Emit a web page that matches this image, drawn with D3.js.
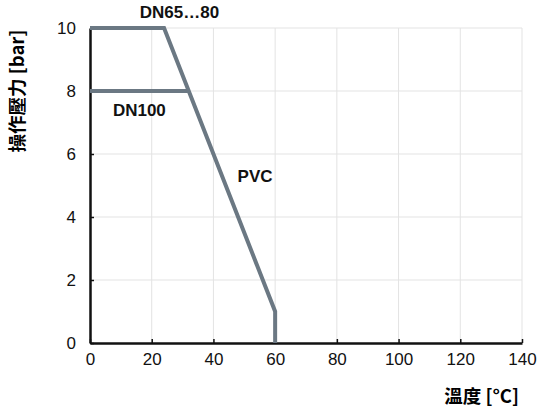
<!DOCTYPE html>
<html>
<head>
<meta charset="utf-8">
<script src="https://cdn.jsdelivr.net/npm/d3@7"></script>
<style>
  body { margin: 0; background: #fff; }
  text { font-family: "Liberation Sans", Arial, sans-serif; }
</style>
</head>
<body>
<svg id="chart" width="542" height="415"></svg>
<script>
var xTicks = [0, 20, 40, 60, 80, 100, 120, 140];
var yTicks = [0, 2, 4, 6, 8, 10];

// DN65...80 curve: temperature [°C], pressure [bar]
var dn65Temp = [0, 24, 60, 60];
var dn65Pres = [10, 10, 1, 0];

// DN100 curve
var dn100Temp = [0, 32];
var dn100Pres = [8, 8];

var labels = [
    { text: "DN65\u202680", t: 29, p: 10.45 },
    { text: "DN100", t: 16, p: 7.35 },
    { text: "PVC", t: 53.5, p: 5.25 }
];

var svg = d3.select("#chart");
var margin = { left: 90, right: 20, top: 28, bottom: 72 };
var width = 542 - margin.left - margin.right,
    height = 415 - margin.top - margin.bottom;

var x = d3.scaleLinear().domain([0, 140]).range([0, width]);
var y = d3.scaleLinear().domain([0, 10]).range([height, 0]);

var g = svg.append("g")
    .attr("transform", "translate(" + margin.left + "," + margin.top + ")");

// grid
g.selectAll(".vgrid")
    .data(xTicks.slice(1))
    .enter()
    .append("line")
    .attr("x1", function(d) { return x(d); })
    .attr("x2", function(d) { return x(d); })
    .attr("y1", 0)
    .attr("y2", height)
    .attr("stroke", "#e3e3e3")
    .attr("stroke-width", 1);

g.selectAll(".hgrid")
    .data(yTicks.slice(1))
    .enter()
    .append("line")
    .attr("x1", 0)
    .attr("x2", width)
    .attr("y1", function(d) { return y(d); })
    .attr("y2", function(d) { return y(d); })
    .attr("stroke", "#e3e3e3")
    .attr("stroke-width", 1);

// axes
var xAxis = g.append("g")
    .attr("transform", "translate(0," + height + ")")
    .call(d3.axisBottom(x).tickValues(xTicks).tickSizeInner(-4).tickSizeOuter(0).tickPadding(10));

var yAxis = g.append("g")
    .call(d3.axisLeft(y).tickValues(yTicks).tickSizeInner(-4).tickSizeOuter(0).tickPadding(14));

[xAxis, yAxis].forEach(function(a) {
    a.select(".domain").attr("stroke", "#111").attr("stroke-width", 2.5);
    a.selectAll(".tick line").attr("stroke", "#111").attr("stroke-width", 1.5);
    a.selectAll(".tick text")
        .style("font-size", "17px")
        .attr("fill", "#111")
        .style("font-family", "'Liberation Sans', Arial, sans-serif");
});

// curves
var line = d3.line()
    .x(function(d) { return x(d[0]); })
    .y(function(d) { return y(d[1]); });

g.append("path")
    .datum(d3.zip(dn100Temp, dn100Pres))
    .attr("d", line)
    .attr("fill", "none")
    .attr("stroke", "#6b7883")
    .attr("stroke-width", 4);

g.append("path")
    .datum(d3.zip(dn65Temp, dn65Pres))
    .attr("d", line)
    .attr("fill", "none")
    .attr("stroke", "#6b7883")
    .attr("stroke-width", 4)
    .attr("stroke-linejoin", "miter");

// labels
g.selectAll(".lbl")
    .data(labels)
    .enter()
    .append("text")
    .attr("x", function(d) { return x(d.t); })
    .attr("y", function(d) { return y(d.p); })
    .attr("text-anchor", "middle")
    .attr("dominant-baseline", "middle")
    .style("font-size", "17px")
    .style("font-weight", "bold")
    .attr("fill", "#111")
    .text(function(d) { return d.text; });

// axis titles
svg.append("text")
    .attr("transform", "translate(19," + (margin.top + 63) + ") rotate(-90)")
    .attr("text-anchor", "middle")
    .attr("dominant-baseline", "middle")
    .style("font-size", "18.5px")
    .style("font-weight", "bold")
    .style("font-family", "'Noto Sans CJK TC', 'Liberation Sans', sans-serif")
    .text("操作壓力 [bar]");

svg.append("text")
    .attr("x", 519)
    .attr("y", 398)
    .attr("text-anchor", "end")
    .attr("dominant-baseline", "middle")
    .style("font-size", "18.5px")
    .style("font-weight", "bold")
    .style("font-family", "'Noto Sans CJK TC', 'Liberation Sans', sans-serif")
    .text("溫度 [°C]");
</script>
</body>
</html>
